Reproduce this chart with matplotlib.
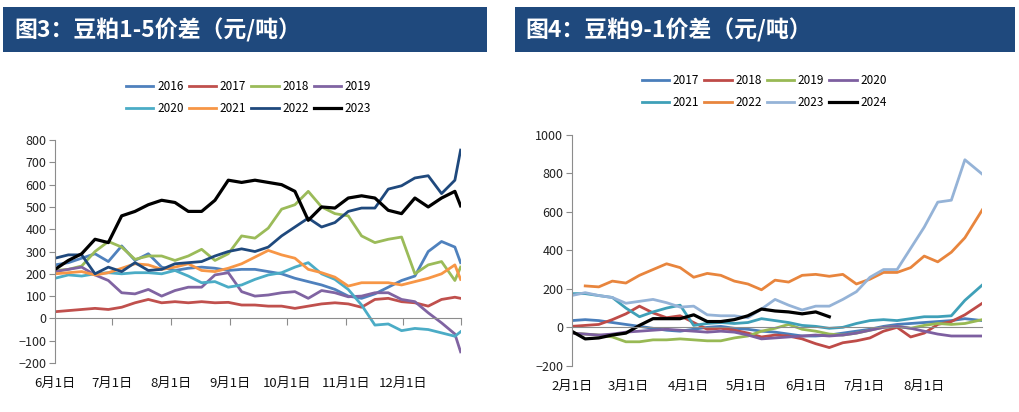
import matplotlib
matplotlib.use('Agg')
import matplotlib.pyplot as plt
import matplotlib.dates as mdates
from matplotlib.patches import Rectangle
import numpy as np
import pandas as pd

plt.rcParams['font.family'] = ['Noto Sans CJK SC', 'DejaVu Sans']

# 图3 数据：6月1日起每周一个点，最后一个点为12月31日
dates_15 = list(pd.date_range('2023-06-01', periods=31, freq='7D')) + [pd.Timestamp('2023-12-31')]
years_15 = ['2016', '2017', '2018', '2019', '2020', '2021', '2022', '2023']
s15_2016 = [240, 250, 270, 290, 255, 325, 260, 290, 230, 215, 225, 230, 225, 215, 220, 220,
            210, 200, 180, 165, 150, 130, 100, 90, 110, 140, 170, 190, 300, 345, 320, 250]
s15_2017 = [30, 35, 40, 45, 40, 50, 70, 85, 70, 75, 70, 75, 70, 72, 60, 60,
            55, 55, 45, 55, 65, 70, 65, 50, 85, 90, 75, 70, 55, 85, 95, 90]
s15_2018 = [215, 220, 235, 300, 345, 320, 265, 280, 280, 260, 280, 310, 260, 290, 370, 360,
            405, 490, 510, 570, 500, 470, 460, 370, 340, 355, 365, 200, 240, 255, 170, 230]
s15_2019 = [210, 220, 230, 195, 170, 115, 110, 130, 100, 125, 140, 140, 195, 205, 120, 100,
            105, 115, 120, 90, 125, 115, 97, 100, 115, 115, 85, 75, 25, -20, -70, -150]
s15_2020 = [180, 195, 190, 200, 205, 200, 205, 205, 200, 215, 190, 160, 165, 140, 150, 175,
            195, 205, 230, 250, 200, 175, 130, 60, -30, -25, -55, -45, -50, -65, -80, -60]
s15_2021 = [200, 205, 210, 195, 205, 225, 245, 240, 220, 230, 245, 215, 210, 225, 245, 275,
            305, 285, 270, 220, 205, 185, 145, 160, 160, 160, 150, 165, 180, 200, 240, 175]
s15_2022 = [270, 285, 285, 200, 230, 210, 250, 215, 220, 245, 250, 255, 280, 300, 312, 300,
            320, 370, 410, 450, 410, 430, 480, 495, 495, 580, 595, 630, 640, 560, 620, 755]
s15_2023 = [220, 260, 290, 355, 340, 460, 480, 510, 530, 520, 480, 480, 530, 620, 610, 620,
            610, 600, 570, 440, 500, 495, 540, 550, 540, 485, 470, 540, 500, 540, 570, 505]
colors_15 = ['#4F81BD', '#C0504D', '#9BBB59', '#8064A2', '#4BACC6', '#F79646', '#1F497D', 'black']
ticks_15 = ['2023-06-01', '2023-07-01', '2023-08-01', '2023-09-01', '2023-10-01', '2023-11-01', '2023-12-01']
labels_15 = ['6月1日', '7月1日', '8月1日', '9月1日', '10月1日', '11月1日', '12月1日']

# 图4 数据：2月1日起每周一个点，最后一个点为8月31日
dates_91 = list(pd.date_range('2024-02-01', periods=30, freq='7D')) + [pd.Timestamp('2024-08-31')]
years_91 = ['2017', '2018', '2019', '2020', '2021', '2022', '2023', '2024']
nan = np.nan
s91_2017 = [35, 40, 35, 25, 15, 5, -5, -15, -20, -10, 0, 5, -5, -10, -20, -25,
            -35, -45, -45, -40, -30, -20, -10, 5, 15, 20, 25, 30, 35, 45, 35]
s91_2018 = [5, 10, 15, 40, 70, 110, 75, 50, 60, 25, -10, -5, -15, -30, -50, -40,
            -45, -60, -85, -105, -80, -70, -55, -20, 0, -50, -30, 15, 30, 65, 125]
s91_2019 = [-30, -35, -40, -50, -75, -75, -65, -65, -60, -65, -70, -70, -55, -45, -20, -5,
            15, -10, -20, -35, -40, -30, -15, 0, 5, -5, 10, 20, 15, 20, 40]
s91_2020 = [-30, -35, -40, -35, -25, -20, -15, -10, -15, -20, -25, -20, -25, -40, -60, -55,
            -50, -45, -40, -45, -40, -30, -15, 0, 5, -5, -20, -35, -45, -45, -45]
s91_2021 = [175, 175, 165, 155, 100, 55, 80, 100, 115, 10, 20, 25, 20, 25, 45, 35,
            25, 10, 5, -5, 0, 20, 35, 40, 35, 45, 55, 55, 60, 140, 220]
s91_2022 = [nan, 215, 210, 240, 230, 270, 300, 330, 310, 260, 280, 270, 240, 225, 195, 245,
            235, 270, 275, 265, 275, 225, 250, 285, 285, 310, 370, 340, 390, 465, 610]
s91_2023 = [165, 180, 165, 155, 125, 135, 145, 128, 105, 110, 65, 60, 60, 50, 95, 145,
            115, 90, 110, 110, 145, 185, 260, 300, 300, 410, 520, 650, 660, 870, 795]
s91_2024 = [-20, -60, -55, -40, -30, 10, 45, 45, 45, 65, 30, 30, 40, 60, 95, 85,
            80, 70, 80, 55, nan, nan, nan, nan, nan, nan, nan, nan, nan, nan, nan]
colors_91 = ['#4A7EBB', '#BE4B48', '#98B954', '#7D5FA0', '#3FA0B8', '#E8853D', '#95B3D7', 'black']
ticks_91 = ['2024-02-01', '2024-03-01', '2024-04-01', '2024-05-01', '2024-06-01', '2024-07-01', '2024-08-01']
labels_91 = ['2月1日', '3月1日', '4月1日', '5月1日', '6月1日', '7月1日', '8月1日']

title_color = '#1F497D'
axis_color = '#8C8C8C'


def draw_panel(fig, rect, bar_x, title, dates, series, years, colors, ylim, ystep,
               ticks, labels, xend, legend_x, legend_y, xticks_on):
    # 标题栏
    fig.patches.append(Rectangle((bar_x[0], 0.874), bar_x[1] - bar_x[0], 0.109,
                                 transform=fig.transFigure, facecolor=title_color,
                                 edgecolor='none', zorder=0))
    fig.text(bar_x[0] + 0.011, 0.927, title, color='white', fontsize=16.5,
             fontweight='bold', va='center', ha='left')

    ax = fig.add_axes(rect)
    x = mdates.date2num(dates)
    handles = []
    for s, y, c in zip(series, years, colors):
        lw = 2.3 if c == 'black' else 2.0
        h, = ax.plot(x, s, color=c, lw=lw, label=y, solid_joinstyle='round')
        handles.append(h)

    ax.set_xlim(mdates.date2num(pd.Timestamp(dates[0])), mdates.date2num(pd.Timestamp(xend)))
    ax.set_ylim(ylim)
    ax.set_yticks(np.arange(ylim[0], ylim[1] + 1, ystep))
    ax.tick_params(axis='y', length=4, color=axis_color, labelsize=9, pad=2, labelcolor='#222222')

    for sp in ['top', 'right']:
        ax.spines[sp].set_visible(False)
    ax.spines['left'].set_color(axis_color)
    ax.spines['bottom'].set_color(axis_color)
    ax.spines['bottom'].set_position(('data', 0))

    tick_pos = mdates.date2num(pd.to_datetime(ticks))
    if xticks_on:
        ax.set_xticks(list(tick_pos[1:]) + [ax.get_xlim()[1]])
        ax.tick_params(axis='x', length=5, color=axis_color, direction='out')
    else:
        ax.set_xticks([])
    ax.set_xticklabels([])
    for p, lab in zip(tick_pos, labels):
        ax.text(p, -0.09, lab, transform=ax.get_xaxis_transform(), ha='center', va='center',
                fontsize=9.5, color='#111111')

    # 图例按行排列：两行四列
    order = [0, 4, 1, 5, 2, 6, 3, 7]
    fig.legend(handles=[handles[i] for i in order], labels=[years[i] for i in order],
               ncol=4, loc='center', bbox_to_anchor=(legend_x, legend_y), frameon=False,
               fontsize=8.5, handlelength=2.3, handletextpad=0.3, columnspacing=0.45,
               labelspacing=0.75)
    return ax


fig = plt.figure(figsize=(10.19, 4.12), dpi=100)

draw_panel(fig, [0.054, 0.119, 0.398, 0.541], (0.003, 0.478), '图3：豆粕1-5价差（元/吨）',
           dates_15, [s15_2016, s15_2017, s15_2018, s15_2019, s15_2020, s15_2021, s15_2022, s15_2023],
           years_15, colors_15, (-200, 800), 100, ticks_15, labels_15, '2023-12-31',
           0.244, 0.764, True)

draw_panel(fig, [0.561, 0.112, 0.403, 0.561], (0.505, 0.996), '图4：豆粕9-1价差（元/吨）',
           dates_91, [s91_2017, s91_2018, s91_2019, s91_2020, s91_2021, s91_2022, s91_2023, s91_2024],
           years_91, colors_91, (-200, 1000), 200, ticks_91, labels_91, '2024-08-31',
           0.75, 0.778, False)

fig.savefig('out.png', dpi=100)
